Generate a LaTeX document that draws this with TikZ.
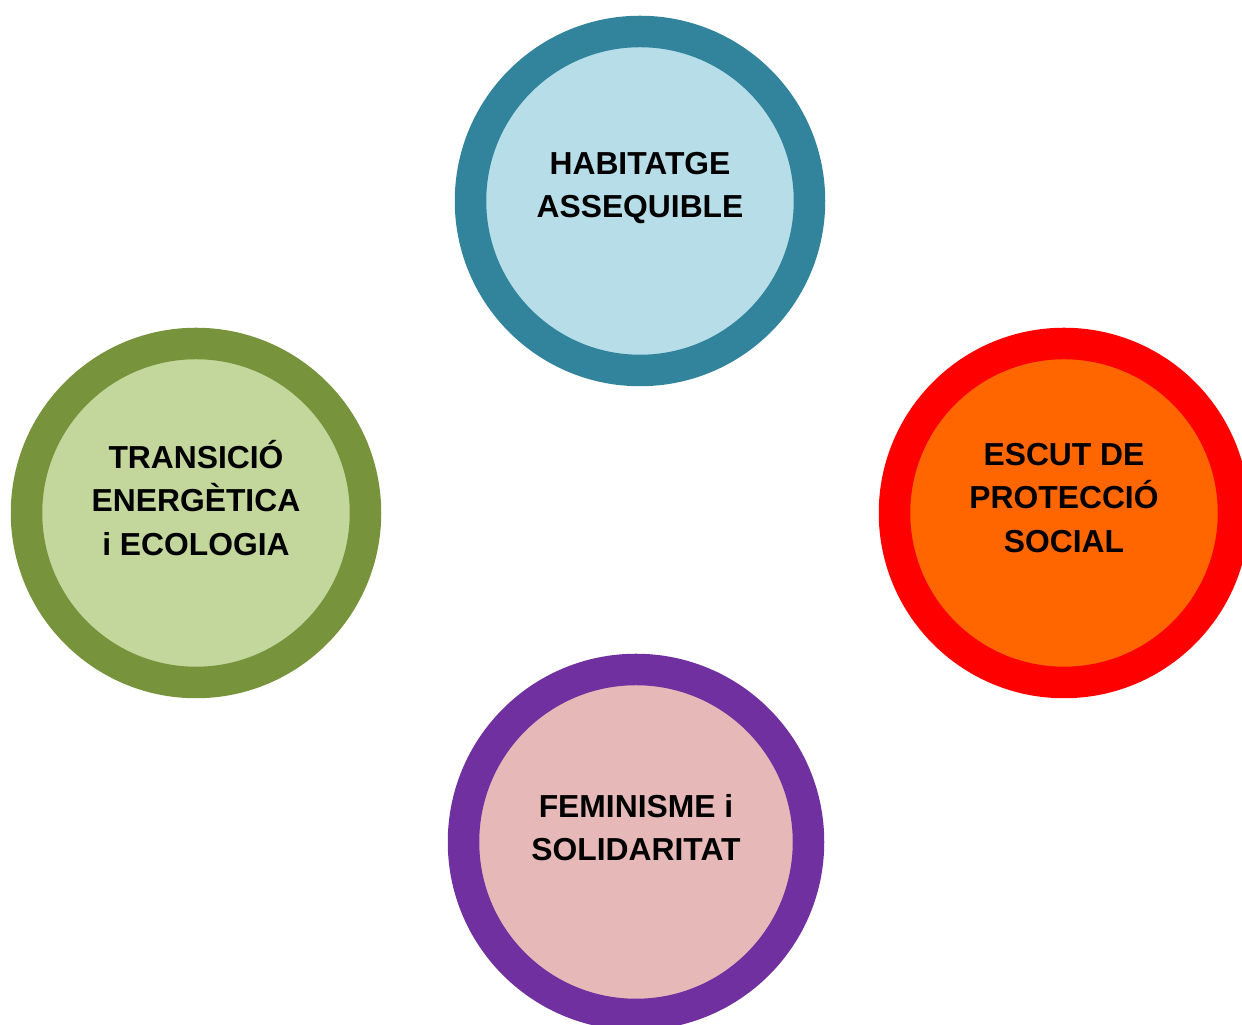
\documentclass[tikz,border=0pt]{standalone}
\usepackage{fontspec}
\setmainfont{Liberation Sans}
\definecolor{tealring}{HTML}{31849B}
\definecolor{tealfill}{HTML}{B7DEE8}
\definecolor{greenring}{HTML}{77933C}
\definecolor{greenfill}{HTML}{C3D69B}
\definecolor{redring}{HTML}{FF0000}
\definecolor{redfill}{HTML}{FF6600}
\definecolor{purplering}{HTML}{7030A0}
\definecolor{pinkfill}{HTML}{E6B9B8}
\tikzset{
  >=latex,
}
\tikzstyle{ring}=[circle,line width=0.63cm,minimum size=6.78cm,inner sep=0pt]
\tikzstyle{topic}=[align=center,font=\fontsize{18.1}{24.6}\selectfont\bfseries]

\begin{document}
\begin{tikzpicture}
        \useasboundingbox (0,0) rectangle (24.84,20.5);
        \clip (0,0) rectangle (24.84,20.5);
        \node[ring,draw=tealring,fill=tealfill] (habitatge) at (12.8,16.48) {};
        \node[ring,draw=greenring,fill=greenfill] (transicio) at (3.92,10.24) {};
        \node[ring,draw=redring,fill=redfill] (escut) at (21.28,10.24) {};
        \node[ring,draw=purplering,fill=pinkfill,minimum size=6.9cm] (feminisme) at (12.72,3.66) {};
        % texts, a little above the centres
        \node[topic] (habitatgetext) at ([yshift=.26cm]habitatge.center) {HABITATGE\\ASSEQUIBLE};
        \node[topic] (transiciotext) at ([yshift=.3cm]transicio.center) {TRANSICIÓ\\ENERGÈTICA\\i ECOLOGIA};
        \node[topic] (escuttext) at ([yshift=.3cm]escut.center) {ESCUT DE\\PROTECCIÓ\\SOCIAL};
        \node[topic] (feminismetext) at ([yshift=.28cm]feminisme.center) {FEMINISME i\\SOLIDARITAT};
      \end{tikzpicture}
\end{document}
